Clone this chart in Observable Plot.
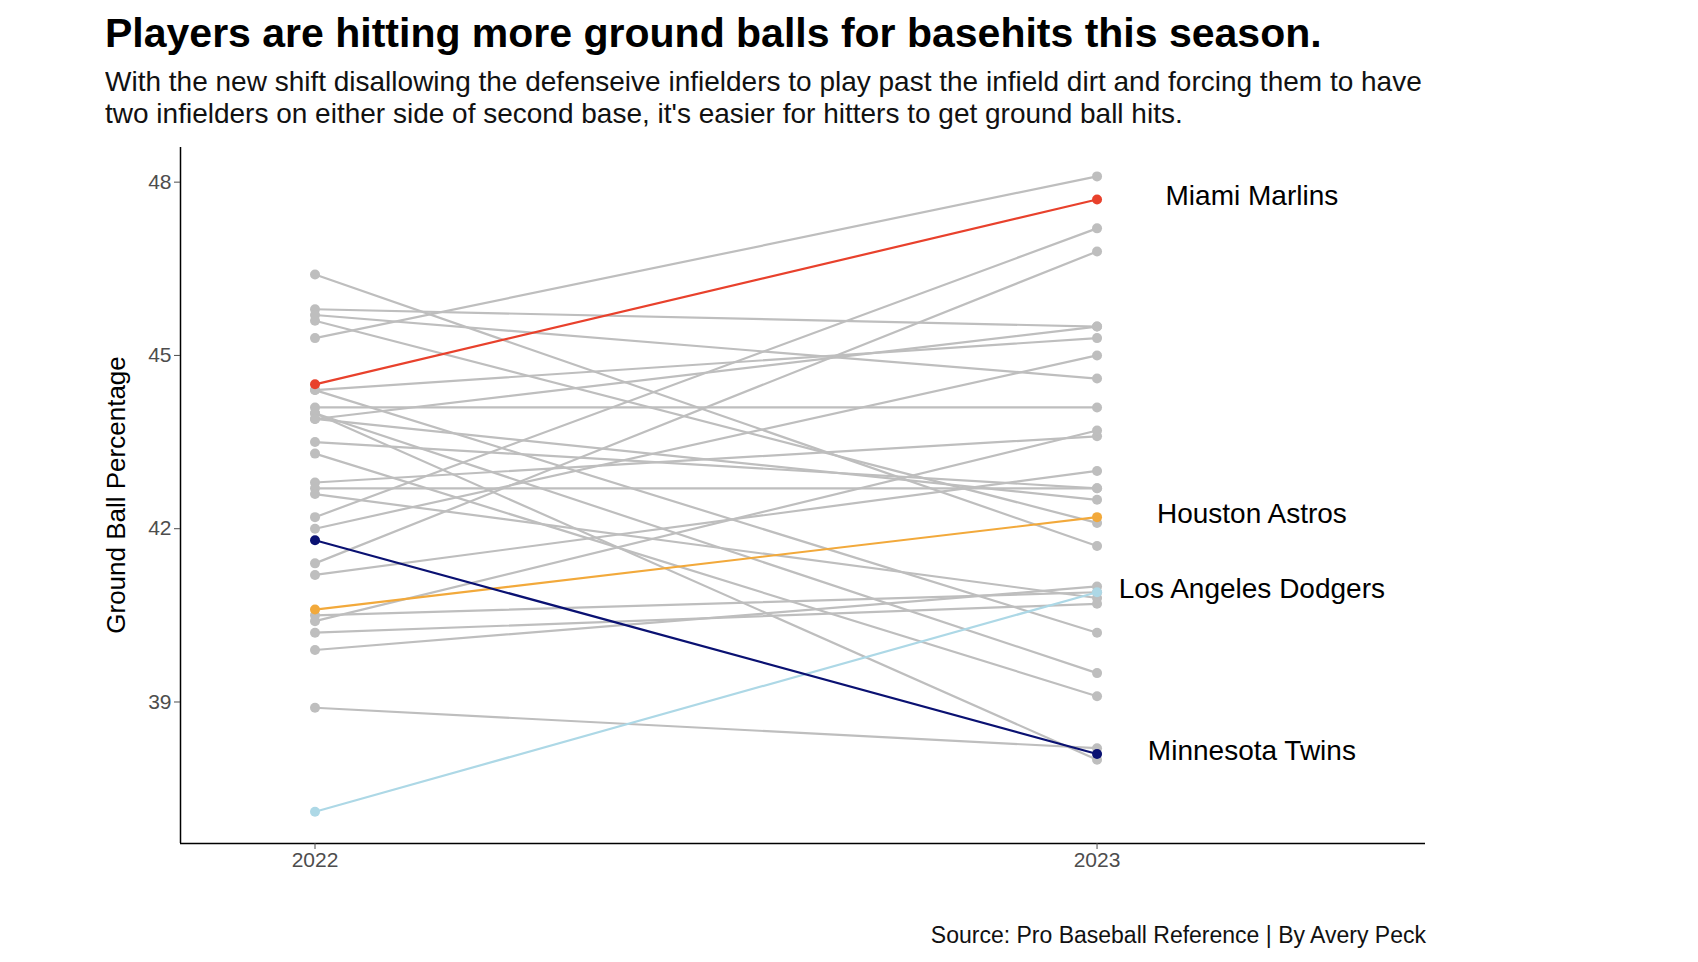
<!DOCTYPE html>
<html><head><meta charset="utf-8">
<script src="https://cdn.jsdelivr.net/npm/d3@7"></script>
<script src="https://cdn.jsdelivr.net/npm/@observablehq/plot@0.6"></script>
<style>
body{margin:0;background:#fff;font-family:"Liberation Sans",Arial,sans-serif;width:1698px;height:962px;position:relative;overflow:hidden}
#title{position:absolute;left:105px;top:10px;font-size:41px;font-weight:bold;color:#000}
.sub{position:absolute;left:105px;font-size:28px;color:#111;white-space:nowrap;overflow:hidden;width:1338px}
#cap{position:absolute;right:272px;top:922px;font-size:23px;color:#111}
#chart{position:absolute;left:0;top:140px}
</style></head><body>
<div id="title">Players are hitting more ground balls for basehits this season.</div>
<div class="sub" style="top:66px">With the new shift disallowing the defenseive infielders to play past the infield dirt and forcing them to have</div>
<div class="sub" style="top:98px">two infielders on either side of second base, it's easier for hitters to get ground ball hits.</div>
<div id="chart"></div>
<div id="cap">Source: Pro Baseball Reference | By Avery Peck</div>
<script>
const teams = ["ARI","ATL","BAL","BOS","CHC","CWS","Miami Marlins","CIN","CLE","COL","DET","Houston Astros","KC","LAA","Los Angeles Dodgers","MIL","Minnesota Twins","NYM","NYY","OAK","PHI","PIT","SD","SF","SEA","STL","TB","TEX","TOR","WSH"];
const gb2022 = [46.4,45.8,45.7,45.6,45.3,44.4,44.5,44.1,44.0,43.9,43.5,40.6,43.3,42.8,37.1,42.7,41.8,42.6,42.2,42.0,41.4,41.2,40.5,40.4,40.2,39.9,38.9,44.0,43.9,44.4];
const gb2023 = [41.7,45.5,44.6,42.1,48.1,40.2,47.7,44.1,38.0,45.5,42.7,42.2,39.1,43.6,40.9,42.7,38.1,40.8,47.2,45.0,46.8,43.0,40.9,43.7,40.7,41.0,38.2,39.5,42.5,45.3];
const years = [2022, 2023];
const highlight = {"Miami Marlins":"#e8412c","Houston Astros":"#f2a93b","Los Angeles Dodgers":"#add8e6","Minnesota Twins":"#0a1172"};
const rows = [];
teams.forEach((t,i)=>{rows.push({team:t,year:2022,gb:gb2022[i]});rows.push({team:t,year:2023,gb:gb2023[i]});});
const grey = rows.filter(d=>!highlight[d.team]);
const hi = rows.filter(d=>highlight[d.team]);
const labels = teams.map((t,i)=>({team:t,gb:gb2023[i]})).filter(d=>highlight[d.team]);
const col = d=>highlight[d.team]||"#bebebe";
const chart = Plot.plot({
  width:1698, height:763, marginLeft:180, marginRight:273, marginTop:7, marginBottom:60,
  style:{fontFamily:"Liberation Sans, Arial, sans-serif", fontSize:"20px", color:"#4d4d4d"},
  x:{domain:[2021.828,2023.42], label:null},
  y:{domain:[36.55,48.6], label:null},
  marks:[
    Plot.line(grey,{x:"year",y:"gb",z:"team",stroke:"#bebebe",strokeWidth:2.2}),
    Plot.dot(grey,{x:"year",y:"gb",fill:"#bebebe",r:5}),
    Plot.line(hi,{x:"year",y:"gb",z:"team",stroke:col,strokeWidth:2.2}),
    Plot.dot(hi,{x:"year",y:"gb",fill:col,r:5}),
    Plot.text(labels,{x:()=>2023.198,y:"gb",text:"team",fontSize:28,fill:"#000",dy:-3}),
    Plot.ruleX([2021.828],{stroke:"#000",strokeWidth:1.5}),
    Plot.ruleY([36.55],{stroke:"#000",strokeWidth:1.5}),
    Plot.axisX({ticks:years,tickFormat:d=>String(d),fontSize:21,tickSize:6,label:null}),
    Plot.axisY({ticks:[39,42,45,48],fontSize:21,tickSize:6,label:null})
  ]
});
document.getElementById("chart").appendChild(chart);
const svg = d3.select(chart);
svg.append("text").attr("transform","translate(125,"+(7+348)+") rotate(-90)").attr("text-anchor","middle")
  .attr("font-size",26).attr("fill","#000").text("Ground Ball Percentage");
</script></body></html>
